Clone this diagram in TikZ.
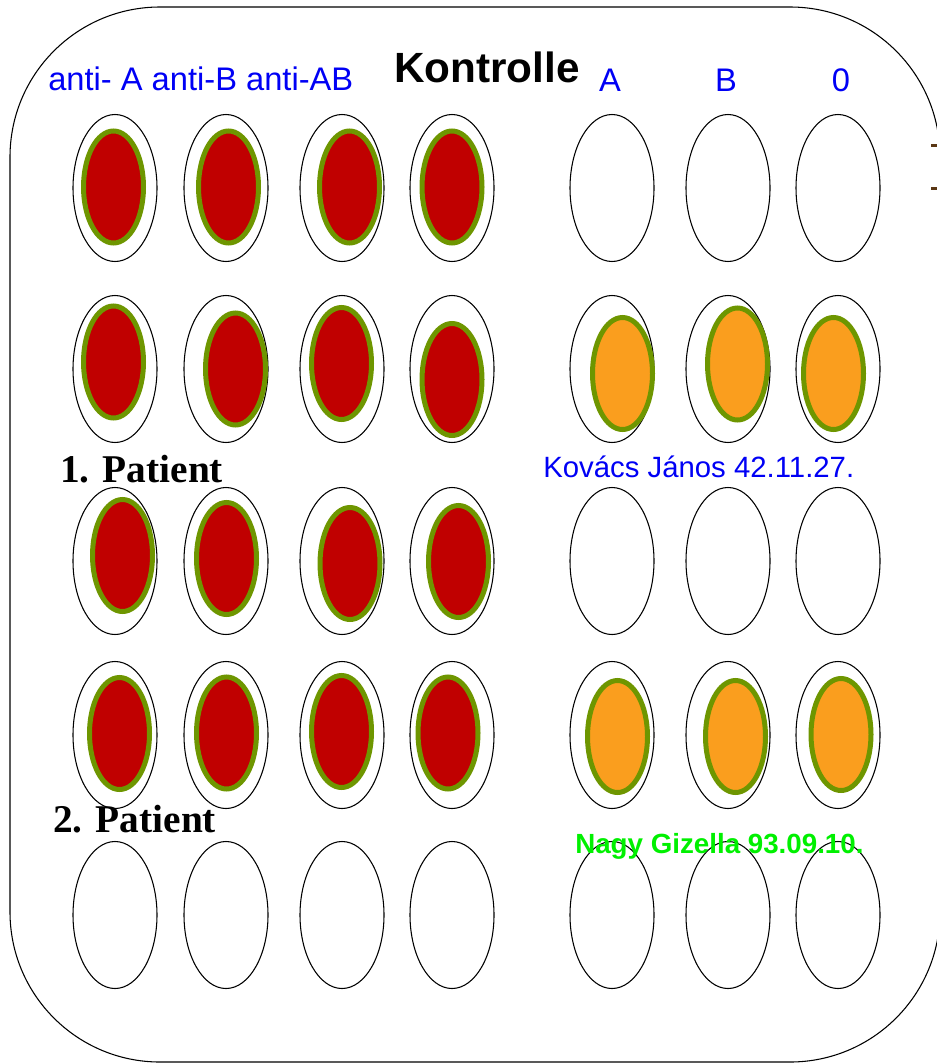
\documentclass[tikz,border=0pt]{standalone}
\usepackage{fontspec}
\setmainfont{Liberation Serif}
\setsansfont{Liberation Sans}
\definecolor{clotred}{RGB}{192,0,0}
\definecolor{rimgreen}{RGB}{110,150,0}
\definecolor{serumorange}{RGB}{250,158,30}
\definecolor{labelblue}{RGB}{0,0,245}
\definecolor{namegreen}{RGB}{0,240,0}
\definecolor{tickbrown}{RGB}{90,55,20}
\usepackage{tikz}

\begin{document}
\begin{tikzpicture}[x=0.75pt, y=-0.75pt,
  well/.style={draw=black, line width=0.8pt},
  drop/.style={draw=rimgreen, line width=3.75pt},
  txt/.style={anchor=base west, inner sep=0pt}]
  \useasboundingbox (0,0) rectangle (937,1063);
  % Plate
  \draw[line width=0.8pt, rounded corners=112.5pt] (10,7) rectangle (940,1062);
  \draw[tickbrown, line width=2.25pt] (931,145) -- (937,145);
  \draw[tickbrown, line width=2.25pt] (931,188) -- (937,188);
  % Wells
  \foreach \y in {188,369,561,735,915} {
    \foreach \x in {115,226,342,452,612,728,838} {
      \draw[well] (\x,\y) ellipse [x radius=42, y radius=73.5];
    }
  }
  % Agglutinated drops (anti-sera)
  \foreach \x/\y in {113.5/187, 228.5/187, 349.5/187, 452/187,
                     113.5/362, 235.5/369, 341.5/363.5, 452/379.5,
                     122.5/555.5, 226.5/558.5, 350/563.5, 458.5/561.5,
                     119.5/733.5, 226.5/733, 341.5/731.5, 448/733} {
    \filldraw[drop, fill=clotred] (\x,\y) ellipse [x radius=30, y radius=56];
  }
  % Drops (test cells)
  \foreach \x/\y in {622.5/373.5, 737.5/364, 833.5/373.5,
                     617.5/736.5, 735.5/736.5, 841/734.5} {
    \filldraw[drop, fill=serumorange] (\x,\y) ellipse [x radius=30, y radius=56];
  }
  % Labels
  \node[txt, labelblue, font=\sffamily\fontsize{24.5}{28}\selectfont] (antisera) at (48,90) {anti- A anti-B anti-AB};
  \node[txt, font=\sffamily\bfseries\fontsize{31.7}{35}\selectfont] (kontrolle) at (394,83) {Kontrolle};
  \foreach \x/\lbl/\nm in {610/A/cellA, 726/B/cellB, 841/0/cell0}
    \node[labelblue, anchor=base, inner sep=0pt, font=\sffamily\fontsize{24.5}{28}\selectfont] (\nm) at (\x,92) {\lbl};
  \node[txt, font=\bfseries\fontsize{29.5}{34}\selectfont] (patient1) at (60,482) {1. Patient};
  \node[txt, font=\bfseries\fontsize{29.5}{34}\selectfont] (patient2) at (53,832) {2. Patient};
  \node[txt, labelblue, font=\sffamily\fontsize{22}{26}\selectfont] (name1) at (543,477) {Kovács János 42.11.27.};
  \node[txt, namegreen, font=\sffamily\bfseries\fontsize{20.8}{25}\selectfont] (name2) at (575,853) {Nagy Gizella 93.09.10.};
\end{tikzpicture}
\end{document}
